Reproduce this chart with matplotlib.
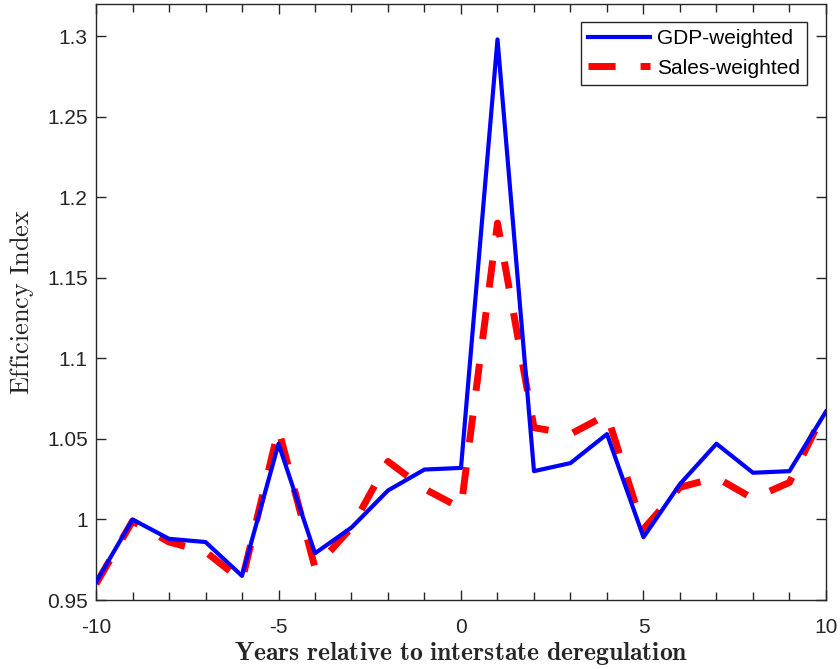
import matplotlib
matplotlib.use("Agg")
import matplotlib.pyplot as plt
from matplotlib.ticker import MultipleLocator

years = list(range(-10, 11))
gdp_weighted = [0.961, 1.000, 0.988, 0.986, 0.965, 1.047, 0.979, 0.995, 1.018, 1.031, 1.032,
                1.298, 1.030, 1.035, 1.053, 0.989, 1.022, 1.047, 1.029, 1.030, 1.067]
sales_weighted = [0.960, 0.999, 0.986, 0.980, 0.962, 1.056, 0.970, 0.995, 1.036, 1.019, 1.007,
                  1.184, 1.057, 1.053, 1.065, 0.994, 1.020, 1.026, 1.013, 1.023, 1.069]

yticks = [0.95, 1.0, 1.05, 1.1, 1.15, 1.2, 1.25, 1.3]
ytick_labels = ["0.95", "1", "1.05", "1.1", "1.15", "1.2", "1.25", "1.3"]

plt.rcParams["font.family"] = ["Liberation Sans", "DejaVu Sans"]
plt.rcParams["mathtext.fontset"] = "cm"

axis_grey = "#262626"

fig = plt.figure(figsize=(8.4, 6.69), dpi=100)
ax = fig.add_axes([0.1143, 0.1031, 0.869, 0.891])

ax.plot(years, gdp_weighted, color="#0000ff", lw=3, label="GDP-weighted", zorder=3)
ax.plot(years, sales_weighted, color="#ff0000", lw=5, dashes=(3.9, 3.6),
        dash_capstyle="butt", label="Sales-weighted", zorder=2)

ax.set_xlim(-10, 10)
ax.set_ylim(0.95, 1.32)
ax.set_xticks([-10, -5, 0, 5, 10])
ax.set_xticklabels(["-10", "-5", "0", "5", "10"])
ax.xaxis.set_minor_locator(MultipleLocator(1))
ax.set_yticks(yticks)
ax.set_yticklabels(ytick_labels)

ax.tick_params(which="both", direction="in", top=True, right=True,
               colors=axis_grey, labelsize=15, width=1)
ax.tick_params(which="major", length=7)
ax.tick_params(which="minor", length=6)
ax.tick_params(axis="x", which="major", pad=13)
ax.tick_params(axis="y", which="major", pad=6)
for sp in ax.spines.values():
    sp.set_color(axis_grey)
    sp.set_linewidth(1)

ax.set_xlabel(r"$\mathbf{Years\ relative\ to\ interstate\ deregulation}$",
              fontsize=18.5, color=axis_grey, labelpad=2)
ax.set_ylabel(r"$\mathrm{Efficiency\ Index}$", fontsize=19, color=axis_grey, labelpad=8)

leg = ax.legend(loc="upper right", bbox_to_anchor=(0.974, 0.970), fontsize=15,
                frameon=True, fancybox=False, framealpha=1, edgecolor=axis_grey,
                handlelength=3.0, borderpad=0.35, labelspacing=0.5, handletextpad=0.3,
                borderaxespad=0)
leg.get_frame().set_linewidth(1)

fig.savefig("out.png", dpi=100)
